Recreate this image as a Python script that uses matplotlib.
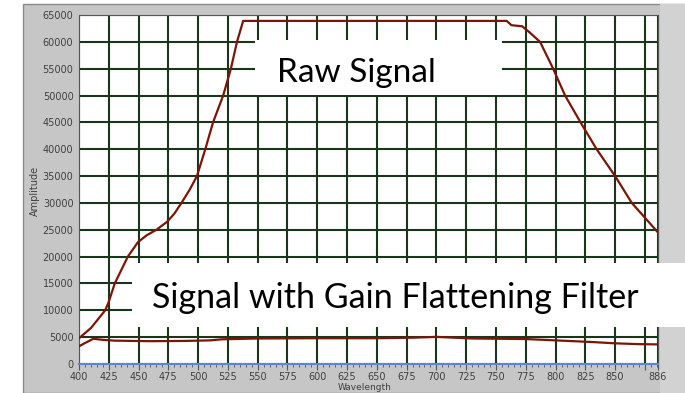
import numpy as np
import matplotlib.pyplot as plt
from matplotlib.patches import Rectangle
from matplotlib.ticker import FixedLocator, MultipleLocator

# longitud de onda (nm) y amplitud
raw_wl = [400, 410, 422, 425, 430, 441, 449.5, 457, 465, 474, 480, 486, 493, 499,
          506, 512.5, 521, 527.5, 532.6, 537.8, 759, 763, 772, 778, 787, 798,
          808, 821, 834.5, 850, 864, 876, 886]
raw_amp = [4800, 6700, 10000, 11600, 15000, 20000, 22700, 24000, 25000, 26500,
           28000, 30000, 32500, 35000, 40000, 45000, 50000, 55000, 60000, 63900,
           63900, 63100, 62900, 61800, 60000, 55000, 50000, 45000, 40000, 35000,
           30000, 27000, 24500]

gff_wl = [400, 405, 412, 420, 430, 460, 490, 510, 520, 550, 600, 650, 680, 700,
          710, 730, 775, 790, 810, 830, 850, 870, 886]
gff_amp = [3300, 3900, 4700, 4500, 4350, 4250, 4300, 4400, 4600, 4750, 4800,
           4800, 4900, 5050, 4950, 4750, 4650, 4500, 4300, 4100, 3850, 3700, 3650]

xticks = list(range(400, 876, 25)) + [886]
xlabels = [str(t) if t != 875 else '' for t in xticks]
yticks = list(range(0, 65001, 5000))

W, H = 685, 393
fig = plt.figure(figsize=(W / 100, H / 100), dpi=100)
fig.patch.set_facecolor('white')

# marco gris del panel
fig.add_artist(Rectangle((23 / W, 0), 1, 1 - 4 / H, transform=fig.transFigure,
                         facecolor='#c6c6c6', edgecolor='#8a8a8a', lw=1, zorder=0))
fig.add_artist(Rectangle((660 / W, 0), 25 / W, 1 - 4 / H, transform=fig.transFigure,
                         facecolor='#d2d2d2', edgecolor='none', zorder=0))

ax = fig.add_axes([79 / W, 1 - 364 / H, 579 / W, 349 / H])
ax.set_facecolor('white')
ax.plot(raw_wl, raw_amp, color='#7a1508', lw=1.6, zorder=3)
ax.plot(gff_wl, gff_amp, color='#7a1508', lw=1.6, zorder=3)

ax.set_xlim(400, 886)
ax.set_ylim(0, 65000)
ax.xaxis.set_major_locator(FixedLocator(xticks))
ax.set_xticklabels(xlabels)
ax.xaxis.set_minor_locator(MultipleLocator(5))
ax.set_yticks(yticks)
ax.set_yticklabels([str(t) for t in yticks])
ax.grid(True, which='major', color='#1a361a', lw=1.5)
ax.tick_params(axis='both', which='both', labelsize=7, labelcolor='#404040',
               color='#555555', direction='out')
ax.tick_params(axis='x', which='major', length=4, pad=2)
ax.tick_params(axis='x', which='minor', length=2)
ax.tick_params(axis='y', length=0, pad=4)
ax.spines['bottom'].set_color('#5b86d6')
ax.spines['bottom'].set_linewidth(1.5)
for s in ['left', 'top', 'right']:
    ax.spines[s].set_color('#555555')

fig.text(35 / W, 1 - 191 / H, 'Amplitude', rotation=90, fontsize=7,
         color='#404040', ha='center', va='center')
fig.text(365 / W, 0.003, 'Wavelength', fontsize=6.5, color='#404040',
         ha='center', va='bottom')

# cajas blancas con las etiquetas
fig.add_artist(Rectangle((255 / W, 1 - 95 / H), 247 / W, 55 / H,
                         transform=fig.transFigure, facecolor='white',
                         edgecolor='none', zorder=5))
fig.text(277 / W, 1 - 81.7 / H, 'Raw Signal', fontsize=24, family='Lato',
         color='black', ha='left', va='baseline', zorder=6)

fig.add_artist(Rectangle((132 / W, 1 - 327 / H), 553 / W, 64 / H,
                         transform=fig.transFigure, facecolor='white',
                         edgecolor='none', zorder=5))
fig.text(152 / W, 1 - 308 / H, 'Signal with Gain Flattening Filter', fontsize=24.5,
         family='Lato', color='black', ha='left', va='baseline', zorder=6)

fig.savefig('out.png', dpi=100)
